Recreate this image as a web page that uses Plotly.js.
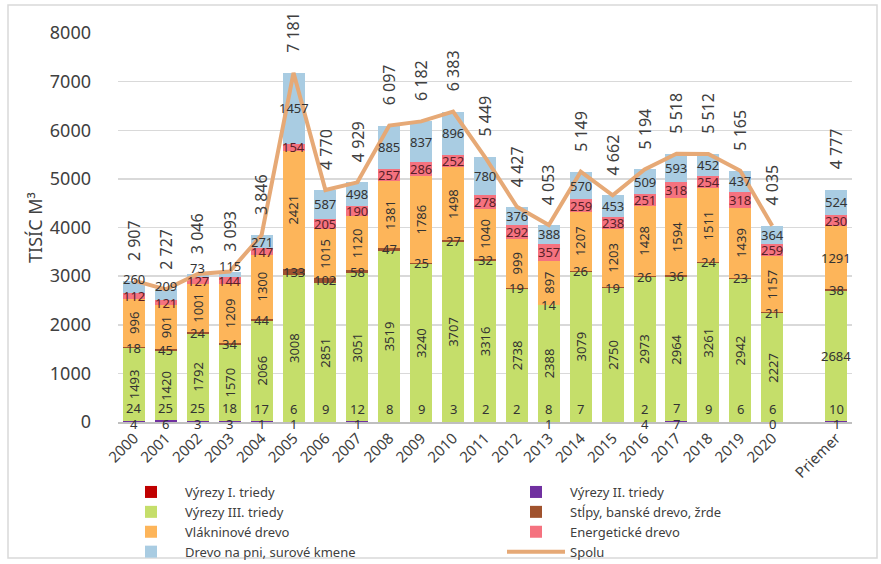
<!DOCTYPE html>
<html>
<head>
<meta charset="utf-8">
<script src="https://cdn.plot.ly/plotly-3.0.1.min.js"></script>
<style>
html,body{margin:0;padding:0;background:#fff;}
#chart{width:881px;height:564px;}
</style>
</head>
<body>
<div id="chart"></div>
<script>
// ---- data ----
const categories = ['2000','2001','2002','2003','2004','2005','2006','2007','2008','2009','2010',
  '2011','2012','2013','2014','2015','2016','2017','2018','2019','2020',' ','Priemer'];
const years = categories.slice(0, 21);

const vyrezyI   = [4,6,3,3,1,1,null,1,null,null,null,null,null,1,null,null,4,7,null,null,0,null,1];
const vyrezyII  = [24,25,25,18,17,6,9,12,8,9,3,2,2,8,7,null,2,7,9,6,6,null,10];
const vyrezyIII = [1493,1420,1792,1570,2066,3008,2851,3051,3519,3240,3707,3316,2738,2388,3079,2750,2973,2964,3261,2942,2227,null,2684];
const stlpy     = [18,45,24,34,44,133,102,58,47,25,27,32,19,14,26,19,26,36,24,23,21,null,38];
const vlakninove= [996,901,1001,1209,1300,2421,1015,1120,1381,1786,1498,1040,999,897,1207,1203,1428,1594,1511,1439,1157,null,1291];
const energeticke=[112,121,127,144,147,154,205,190,257,286,252,278,292,357,259,238,251,318,254,318,259,null,230];
const drevoNaPni= [260,209,73,115,271,1457,587,498,885,837,896,780,376,388,570,453,509,593,452,437,364,null,524];
const spolu     = [2907,2727,3046,3093,3846,7181,4770,4929,6097,6182,6383,5449,4427,4053,5149,4662,5194,5518,5512,5165,4035];
const priemerSpolu = 4777;

const seriesNames = ['Výrezy I. triedy','Výrezy II. triedy','Výrezy III. triedy',
  'Stĺpy, banské drevo, žrde','Vlákninové drevo','Energetické drevo','Drevo na pni, surové kmene'];
const seriesValues = [vyrezyI, vyrezyII, vyrezyIII, stlpy, vlakninove, energeticke, drevoNaPni];
const seriesColors = ['#C00000','#7030A0','#C5DE6A','#A0522D','#FDB55A','#F5727F','#A9CCE2'];
const lineColor = '#E6A976';

// ---- styling ----
const FONT = 'Noto Sans, DejaVu Sans, sans-serif';
const TXT = '#404040';
const W = 881, H = 564;
const M = {l:118, r:29, t:33, b:142};
const pw = W - M.l - M.r, ph = H - M.t - M.b;

const traces = seriesValues.map((vals, i) => ({
  type:'bar', name: seriesNames[i], x: categories, y: vals,
  marker:{color: seriesColors[i], line:{width:0}},
  hoverinfo:'name+y'
}));
traces.push({
  type:'scatter', mode:'lines', name:'Spolu', x: years, y: spolu,
  line:{color: lineColor, width:4, shape:'linear'}, hoverinfo:'name+y'
});

// ---- data labels (x given as category index on the category axis) ----
const annotations = [];
const fmtTotal = v => String(v).replace(/\B(?=(\d{3})+(?!\d))/g, ' ');
const cum = categories.map(() => 0);
seriesValues.forEach((vals, s) => {
  vals.forEach((v, i) => {
    const base = cum[i];
    if (v !== null) {
      const isPriemer = categories[i] === 'Priemer';
      const rotated = (s === 2 || s === 4) && !isPriemer;
      let yshift = 0;
      if (s === 0) yshift = -2;
      if (s === 1) yshift = 13;
      if (s === 6 && v < 265) yshift = 8;
      annotations.push({
        x: i, y: base + v / 2, xref:'x', yref:'y',
        text: String(v), showarrow:false, textangle: rotated ? -90 : 0,
        xanchor:'center', yanchor:'middle', yshift: yshift,
        font:{family:FONT, size:13, color: s === 5 ? '#5a1f28' : '#333333'}
      });
    }
    cum[i] = base + (v || 0);
  });
});
// total labels
const totalsX = years.concat(['Priemer']);
const totalsY = spolu.concat([priemerSpolu]);
totalsX.forEach((c, i) => {
  annotations.push({
    x: categories.indexOf(c), y: totalsY[i], xref:'x', yref:'y', text: fmtTotal(totalsY[i]),
    showarrow:false, textangle:-90, xanchor:'center', yanchor:'bottom', yshift: 18,
    font:{family:FONT, size:16, color: TXT}
  });
});

const shapes = [{
  type:'rect', xref:'paper', yref:'paper',
  x0: (8 - M.l) / pw, x1: (877 - M.l) / pw,
  y0: (H - M.b - 558) / ph, y1: (H - M.b - 5) / ph,
  line:{color:'#D9D9D9', width:1.5}, fillcolor:'rgba(0,0,0,0)', layer:'below'
}];

const layout = {
  width: W, height: H,
  margin: Object.assign({autoexpand:false}, M),
  paper_bgcolor:'#ffffff', plot_bgcolor:'#ffffff',
  font:{family:FONT, color:TXT},
  barmode:'stack', bargap:0.31,
  showlegend:true,
  legend:{
    orientation:'h', traceorder:'normal',
    xref:'paper', yref:'paper',
    x: (117 - M.l) / pw, xanchor:'left',
    y: (H - M.b - 477) / ph, yanchor:'top',
    itemwidth: 58,
    entrywidth: 312, entrywidthmode:'pixels',
    font:{family:FONT, size:13, color:TXT}, tracegroupgap:0,
    bgcolor:'rgba(0,0,0,0)'
  },
  xaxis:{
    type:'category', categoryorder:'array', categoryarray: categories,
    range:[-0.5, categories.length - 0.5],
    tickangle:-45, tickfont:{family:FONT, size:15, color:TXT},
    showline:true, linecolor:'#BFBFBF', linewidth:1.5,
    showgrid:false, ticks:'', zeroline:false, fixedrange:true
  },
  yaxis:{
    range:[0,8000], dtick:1000, tickfont:{family:FONT, size:18, color:TXT},
    showgrid:true, gridcolor:'#D9D9D9', gridwidth:1.5,
    zeroline:false, showline:false, ticks:'', ticklabelstandoff: 26,
    title:{text:'TISÍC M³', font:{family:FONT, size:18, color:TXT}, standoff: 2},
    fixedrange:true
  },
  annotations: annotations,
  shapes: shapes
};

Plotly.newPlot('chart', traces, layout, {displayModeBar:false, staticPlot:true});
</script>
</body>
</html>
